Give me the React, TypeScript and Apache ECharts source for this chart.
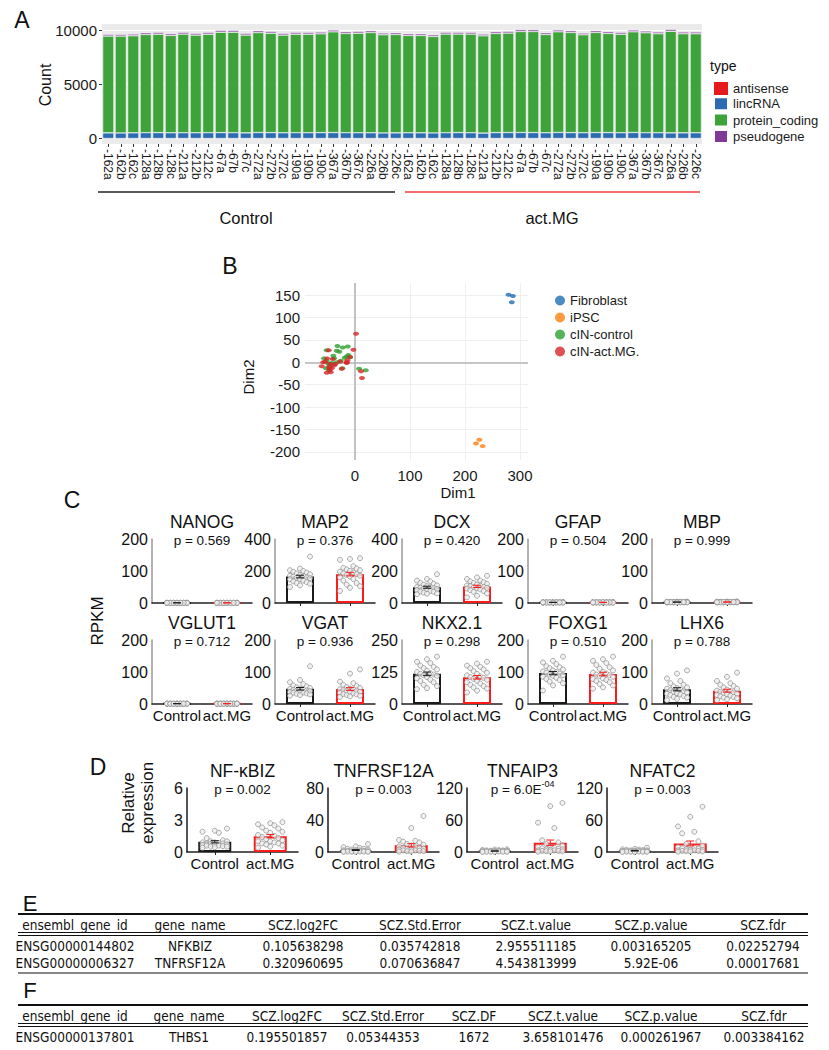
import React, { useEffect, useRef } from "react";
import * as echarts from "echarts";

const SANS = "'Liberation Sans', Arial, Helvetica, sans-serif";
const NARROW = "'Liberation Sans Narrow', 'DejaVu Sans Condensed', 'Liberation Sans', Arial, sans-serif";

// ================= Panel A data =================
const sampleIds = ["-162a", "-162b", "-162c", "-128a", "-128b", "-128c", "-212a", "-212b", "-212c", "-67a", "-67b", "-67c", "-272a", "-272b", "-272c", "-190a", "-190b", "-190c", "-367a", "-367b", "-367c", "-226a", "-226b", "-226c"];
const conditions = ["Control", "act.MG"];
const geneTypes = ["antisense", "lincRNA", "protein_coding", "pseudogene"];
const countTicks = [0, 5000, 10000];
const antisenseCounts = [6, 5, 7, 6, 5, 6, 7, 6, 5, 6, 7, 6, 5, 6, 7, 6, 5, 6, 7, 6, 5, 6, 7, 6, 6, 7, 5, 6, 7, 6, 5, 6, 7, 6, 5, 6, 7, 6, 5, 6, 7, 6, 5, 6, 7, 6, 5, 6];
const lincRNACounts = [520, 515, 525, 540, 545, 530, 535, 530, 540, 545, 540, 520, 550, 545, 530, 540, 535, 545, 550, 540, 535, 530, 515, 520, 530, 525, 520, 540, 545, 535, 500, 545, 550, 555, 550, 530, 555, 545, 535, 550, 545, 535, 555, 540, 535, 520, 525, 530];
const proteinCodingCounts = [8925, 8930, 8945, 9050, 9075, 8975, 9085, 9000, 9080, 9255, 9260, 9010, 9220, 9165, 9000, 9080, 9085, 9105, 9280, 9140, 9175, 9240, 9050, 9070, 8970, 8975, 8890, 9085, 9080, 9090, 8965, 9140, 9165, 9310, 9315, 9060, 9280, 9230, 9025, 9225, 9140, 9085, 9280, 9205, 9120, 9365, 9130, 9125];
const pseudogeneCounts = [150, 150, 155, 160, 160, 155, 160, 155, 160, 165, 165, 155, 165, 160, 155, 160, 160, 160, 165, 160, 160, 165, 155, 160, 155, 155, 150, 160, 160, 160, 155, 160, 160, 165, 165, 160, 165, 165, 155, 165, 160, 160, 165, 160, 160, 165, 160, 160];

// ================= Panel B data =================
const mdsGroups = ["Fibroblast", "iPSC", "cIN-control", "cIN-act.MG."];
const dim1Ticks = [0, 100, 200, 300];
const dim2Ticks = [-200, -150, -100, -50, 0, 50, 100, 150];
const fibroblastPts = [[279, 151], [287, 148], [285, 134]];
const ipscPts = [[220, -181], [226, -173], [232, -187]];
const cinControlPts = [[-51.5, 27], [-32, 36.6], [-22.4, 32.9], [-13.3, 35.1], [-33.3, 25.6], [-28.5, 23.4], [-56.4, 8.8], [-38.2, 8.8], [-51.5, 3.7], [-42.4, -1.5], [-33.3, 0], [-52.7, -13.2], [-45.5, -8.8], [-23, -13.2], [-18.8, 10.2], [-12.1, 16.1], [-9.1, 11], [7.3, -14.6], [19.4, -17.6], [-48.5, -3.7], [-15.2, 13.2], [-26, 3.7], [-39.4, 14.6], [-46.7, -18.3]];
const cinActPts = [[1.8, 63.6], [-3, 27.8], [-47.9, 27], [-50.9, 8.8], [-57.6, 0], [-60.6, -8.8], [-51.5, -23.4], [-44.2, -21.9], [-42.4, -13.2], [-40.6, 7.3], [-35.8, -3.7], [-27.3, 1.5], [-24.2, -14.6], [-15.2, 0], [-13.9, 4.4], [-9.1, 11.7], [10.9, -19.8], [12.7, -35.1], [-47.3, -11], [-54.5, 1.5], [-45.5, -3.7], [-38.2, -7.3], [-46.7, -16.1], [-15.2, -1.5]];

// ================= Panel C data (RPKM) =================
const rpkmGenes = ["NANOG", "MAP2", "DCX", "GFAP", "MBP", "VGLUT1", "VGAT", "NKX2.1", "FOXG1", "LHX6"];
const rpkmPValues = ["p = 0.569", "p = 0.376", "p = 0.420", "p = 0.504", "p = 0.999", "p = 0.712", "p = 0.936", "p = 0.298", "p = 0.510", "p = 0.788"];
const rpkmMax = [200, 400, 400, 200, 200, 200, 200, 250, 200, 200];
const rpkmInterval = [100, 200, 200, 100, 100, 100, 100, 125, 100, 100];
const nanogControl = [0.6, 0.4, 0.9, 0.3, 0.7, 0.5, 1.1, 0.4, 0.6, 0.8, 0.3, 0.5, 0.7, 0.4, 0.6, 0.9, 0.5, 0.3, 0.7, 0.6, 0.4, 0.8, 0.5, 0.6];
const nanogAct = [0.5, 0.7, 0.4, 0.8, 0.6, 0.3, 0.9, 0.5, 0.7, 0.4, 0.6, 1.0, 0.5, 0.3, 0.8, 0.6, 0.4, 0.7, 0.5, 0.9, 0.3, 0.6, 0.4, 0.7];
const map2Control = [290, 215, 205, 200, 195, 190, 185, 180, 175, 170, 168, 165, 160, 158, 155, 150, 148, 140, 135, 130, 125, 120, 110, 100];
const map2Act = [280, 275, 270, 230, 220, 215, 210, 205, 200, 195, 190, 185, 180, 175, 170, 165, 160, 150, 140, 125, 115, 105, 95, 75];
const dcxControl = [180, 150, 140, 135, 125, 120, 115, 110, 105, 100, 98, 95, 92, 90, 88, 85, 80, 75, 72, 70, 65, 60, 58, 55];
const dcxAct = [170, 160, 150, 140, 135, 130, 125, 120, 115, 110, 108, 105, 100, 98, 95, 92, 90, 85, 80, 75, 70, 60, 45, 35];
const gfapControl = [1.8, 2.4, 1.2, 3.0, 1.5, 2.1, 0.9, 2.6, 1.7, 2.2, 1.3, 2.8, 1.9, 1.1, 2.5, 1.6, 2.0, 1.4, 2.7, 1.8, 1.0, 2.3, 1.5, 2.0];
const gfapAct = [2.0, 1.4, 2.6, 1.1, 2.9, 1.7, 2.2, 1.3, 2.5, 1.8, 1.0, 2.4, 1.6, 2.8, 1.2, 2.1, 1.9, 2.7, 1.5, 2.3, 1.1, 1.8, 2.6, 1.4];
const mbpControl = [2.5, 3.5, 1.8, 4.2, 2.9, 1.5, 3.8, 2.2, 3.1, 1.9, 4.5, 2.6, 3.3, 2.0, 3.9, 2.4, 1.7, 3.6, 2.8, 2.1, 4.0, 3.0, 1.6, 2.7];
const mbpAct = [3.2, 2.0, 4.6, 2.7, 1.8, 3.9, 2.4, 5.2, 3.0, 1.6, 3.5, 2.2, 4.1, 2.9, 1.9, 3.7, 2.5, 4.4, 2.1, 3.3, 1.7, 2.8, 3.6, 2.3];
const vglut1Control = [1.2, 0.8, 1.5, 0.9, 1.1, 0.7, 1.3, 1.0, 0.6, 1.4, 0.9, 1.2, 0.8, 1.0, 1.6, 0.7, 1.1, 0.9, 1.3, 0.8, 1.0, 1.2, 0.6, 0.9];
const vglut1Act = [1.0, 1.3, 0.7, 1.1, 0.9, 1.4, 0.8, 1.2, 1.0, 0.6, 1.5, 0.9, 1.1, 0.8, 1.3, 1.0, 0.7, 1.2, 0.9, 1.4, 0.8, 1.1, 1.0, 0.7];
const vgatControl = [118, 75, 68, 62, 58, 55, 52, 50, 48, 47, 45, 44, 42, 41, 40, 38, 37, 36, 35, 33, 32, 30, 28, 26];
const vgatAct = [108, 95, 70, 65, 60, 56, 53, 50, 48, 46, 45, 43, 42, 40, 38, 36, 35, 33, 31, 30, 28, 26, 24, 22];
const nkx21Control = [185, 175, 165, 160, 150, 145, 140, 135, 130, 125, 120, 118, 115, 112, 110, 105, 100, 95, 90, 85, 75, 70, 62, 58];
const nkx21Act = [165, 158, 150, 145, 140, 135, 128, 122, 118, 112, 108, 105, 102, 98, 95, 90, 85, 80, 75, 70, 65, 60, 52, 45];
const foxg1Control = [148, 135, 130, 125, 118, 115, 112, 108, 105, 102, 100, 98, 95, 92, 90, 88, 85, 82, 78, 75, 70, 65, 58, 42];
const foxg1Act = [148, 140, 135, 128, 122, 115, 110, 105, 100, 98, 95, 92, 90, 88, 85, 80, 78, 75, 72, 68, 62, 58, 52, 48];
const lhx6Control = [105, 95, 80, 72, 65, 60, 55, 52, 50, 48, 45, 43, 40, 38, 36, 34, 32, 30, 28, 25, 22, 20, 16, 12];
const lhx6Act = [98, 85, 72, 65, 60, 56, 52, 48, 45, 42, 40, 38, 36, 34, 32, 30, 28, 26, 24, 22, 20, 18, 15, 12];
const rpkmControl = [nanogControl, map2Control, dcxControl, gfapControl, mbpControl, vglut1Control, vgatControl, nkx21Control, foxg1Control, lhx6Control];
const rpkmAct = [nanogAct, map2Act, dcxAct, gfapAct, mbpAct, vglut1Act, vgatAct, nkx21Act, foxg1Act, lhx6Act];

// ================= Panel D data (relative expression) =================
const qpcrGenes = ["NF-κBIZ", "TNFRSF12A", "TNFAIP3", "NFATC2"];
const qpcrPValues = ["p = 0.002", "p = 0.003", "", "p = 0.003"];
const qpcrMax = [6, 80, 120, 120];
const qpcrInterval = [3, 40, 60, 60];
const nfkbizControl = [2.2, 2.0, 1.9, 1.8, 1.3, 1.1, 1.0, 1.0, 0.9, 0.9, 0.85, 0.8, 0.8, 0.75, 0.7, 0.7, 0.65, 0.6, 0.6, 0.55, 0.5, 0.5, 0.45, 0.4];
const nfkbizAct = [2.8, 2.7, 2.6, 2.5, 2.3, 2.2, 2.0, 1.9, 1.8, 1.6, 1.5, 1.4, 1.3, 1.2, 1.1, 1.0, 1.0, 0.9, 0.8, 0.8, 0.7, 0.6, 0.5, 0.4];
const tnfrsf12aControl = [10, 7, 6, 5, 4, 4, 3, 3, 2.5, 2, 2, 1.5, 1.5, 1, 1, 1, 0.8, 0.6, 0.5, 0.5, 0.4, 0.3, 0.2, 0.2];
const tnfrsf12aAct = [45, 30, 15, 14, 13, 12, 10, 9, 8, 7, 6, 5, 5, 4, 4, 3, 3, 2, 2, 1.5, 1, 1, 0.5, 0.5];
const tnfaip3Control = [5, 4.5, 4, 3.5, 3, 3, 2.5, 2.5, 2, 2, 1.8, 1.5, 1.5, 1.2, 1, 1, 0.8, 0.8, 0.6, 0.5, 0.5, 0.4, 0.3, 0.2];
const tnfaip3Act = [92, 86, 55, 45, 22, 18, 15, 12, 10, 9, 8, 7, 6, 5, 5, 4, 3, 3, 2, 2, 1.5, 1, 1, 0.5];
const nfatc2Control = [8, 6, 5, 4.5, 4, 3.5, 3, 3, 2.5, 2, 2, 1.8, 1.5, 1.5, 1.2, 1, 1, 0.8, 0.6, 0.5, 0.5, 0.4, 0.3, 0.2];
const nfatc2Act = [85, 66, 48, 38, 35, 20, 15, 12, 10, 9, 8, 7, 6, 5, 4, 4, 3, 3, 2, 2, 1.5, 1, 1, 0.5];
const qpcrControl = [nfkbizControl, tnfrsf12aControl, tnfaip3Control, nfatc2Control];
const qpcrAct = [nfkbizAct, tnfrsf12aAct, tnfaip3Act, nfatc2Act];

// ================= Tables E and F =================
const tableEHeader = ["ensembl_gene_id", "gene_name", "SCZ.log2FC", "SCZ.Std.Error", "SCZ.t.value", "SCZ.p.value", "SCZ.fdr"];
const tableERows = [
  ["ENSG00000144802", "NFKBIZ", "0.105638298", "0.035742818", "2.955511185", "0.003165205", "0.02252794"],
  ["ENSG00000006327", "TNFRSF12A", "0.320960695", "0.070636847", "4.543813999", "5.92E-06", "0.00017681"],
];
const tableFHeader = ["ensembl_gene_id", "gene_name", "SCZ.log2FC", "SCZ.Std.Error", "SCZ.DF", "SCZ.t.value", "SCZ.p.value", "SCZ.fdr"];
const tableFRows = [["ENSG00000137801", "THBS1", "0.195501857", "0.05344353", "1672", "3.658101476", "0.000261967", "0.003384162"]];

// ================= helpers =================
const mean = (a: number[]) => a.reduce((s, v) => s + v, 0) / a.length;
const sem = (a: number[]) => {
  const m = mean(a);
  const v = a.reduce((s, x) => s + (x - m) * (x - m), 0) / (a.length - 1);
  return Math.sqrt(v) / Math.sqrt(a.length);
};
// deterministic horizontal spread of dots (layout only)
function jitterPoints(values: number[], center: number, spread: number) {
  const order = values.map((v, i) => [v, i]).sort((a, b) => a[0] - b[0]);
  const out: number[][] = new Array(values.length);
  order.forEach(([v, i], r) => {
    const k = ((r * 3) % 7) - 3;
    out[i] = [center + (k / 3) * spread, v];
  });
  return out;
}
const plainNum = (v: number) => String(v);

function txt(text: string, x: number, y: number, size: number, o: any = {}) {
  const align = o.align || "center";
  return {
    type: "text",
    x,
    y,
    rotation: o.rotation || 0,
    silent: true,
    z: 50,
    style: {
      text,
      fontSize: size,
      fontFamily: o.family || SANS,
      fill: o.color || "#111",
      align,
      textAlign: align,
      verticalAlign: "middle",
      textVerticalAlign: "middle",
    },
  };
}
function hline(x1: number, x2: number, y: number, w: number, color = "#111") {
  return { type: "line", silent: true, z: 50, shape: { x1, y1: y, x2, y2: y }, style: { stroke: color, lineWidth: w } };
}

function buildOption() {
  const grid: any[] = [];
  const xAxis: any[] = [];
  const yAxis: any[] = [];
  const series: any[] = [];
  const graphic: any[] = [];

  // ---------- Panel A ----------
  grid.push({ left: 102, top: 24, width: 600, height: 120, show: true, backgroundColor: "#EBEBEB", borderWidth: 0 });
  const labelsA = [...sampleIds, ...sampleIds];
  xAxis.push({
    type: "category",
    gridIndex: 0,
    data: labelsA,
    axisLine: { show: false, onZero: false },
    axisTick: { show: true, alignWithLabel: true, length: 3, lineStyle: { color: "#333" } },
    axisLabel: { interval: 0, rotate: -90, fontSize: 12, color: "#1a1a1a", margin: 5, fontFamily: SANS },
    splitLine: { show: false },
  });
  yAxis.push({
    type: "value",
    gridIndex: 0,
    min: -500,
    max: 10560,
    axisLine: { show: false, onZero: false },
    axisTick: { show: true, length: 3, customValues: countTicks, lineStyle: { color: "#333" } },
    axisLabel: { customValues: countTicks, formatter: plainNum, fontSize: 15, color: "#1a1a1a", margin: 5, fontFamily: SANS },
    splitLine: { show: true, lineStyle: { color: "#ffffff", width: 1 } },
  });
  const typeColors = ["#E41A1C", "#2C6BB0", "#3EA33A", "#7E3A96"];
  const typeData = [antisenseCounts, lincRNACounts, proteinCodingCounts, pseudogeneCounts];
  geneTypes.forEach((t, i) => {
    series.push({
      type: "bar",
      name: t,
      stack: "types",
      xAxisIndex: 0,
      yAxisIndex: 0,
      barCategoryGap: "10%",
      data: typeData[i],
      itemStyle: { color: typeColors[i], borderColor: "#ffffff", borderWidth: i === 0 ? 0 : 0.5 },
      silent: true,
    });
  });
  graphic.push(txt("A", 22, 20, 23));
  graphic.push(txt("Count", 45, 85, 16, { rotation: Math.PI / 2 }));
  graphic.push(txt("type", 710, 66, 14, { align: "left" }));
  graphic.push(hline(98, 395, 192, 2, "#5A5A5A"));
  graphic.push(hline(405, 700, 192, 2, "#F26D6D"));
  graphic.push(txt(conditions[0], 246, 218, 16.5));
  graphic.push(txt(conditions[1], 552, 218, 16.5));

  // ---------- Panel B ----------
  grid.push({ left: 305, top: 283, width: 223, height: 177 });
  xAxis.push({
    type: "value",
    gridIndex: 1,
    min: -91,
    max: 314.5,
    axisLine: { show: false, onZero: false },
    axisTick: { show: false, customValues: dim1Ticks },
    axisLabel: { customValues: dim1Ticks, fontSize: 15, color: "#1a1a1a", margin: 8, fontFamily: SANS },
    splitLine: { show: true, lineStyle: { color: "#EFEFEF", width: 1 } },
  });
  yAxis.push({
    type: "value",
    gridIndex: 1,
    min: -218,
    max: 177,
    axisLine: { show: false, onZero: false },
    axisTick: { show: false, customValues: dim2Ticks },
    axisLabel: { customValues: dim2Ticks, fontSize: 15, color: "#1a1a1a", margin: 5, fontFamily: SANS },
    splitLine: { show: true, lineStyle: { color: "#EFEFEF", width: 1 } },
  });
  const mdsColors = ["#1F6DB5", "#FF7F0E", "#2CA02C", "#D62728"];
  const mdsData = [fibroblastPts, ipscPts, cinControlPts, cinActPts];
  mdsGroups.forEach((g, i) => {
    const s: any = {
      type: "scatter",
      name: g,
      xAxisIndex: 1,
      yAxisIndex: 1,
      data: mdsData[i],
      symbol: "circle",
      symbolSize: [6, 4],
      itemStyle: { color: mdsColors[i] },
      z: 5,
      silent: true,
    };
    if (i === 0) {
      s.markLine = {
        silent: true,
        symbol: "none",
        z: 1,
        label: { show: false },
        lineStyle: { color: "#B5B5B5", width: 1.6, type: "solid" },
        data: [{ xAxis: 0 }, { yAxis: 0 }],
      };
    }
    series.push(s);
  });
  graphic.push(txt("B", 230, 266, 23));
  graphic.push(txt("Dim2", 248, 377, 15, { rotation: Math.PI / 2 }));
  graphic.push(txt("Dim1", 458, 492, 15));

  // ---------- dot-bar subplots (C, D) ----------
  function addDotPlot(cfg: any) {
    const gi = grid.length;
    grid.push({ left: cfg.left, top: cfg.top, width: cfg.width, height: cfg.height });
    const xc = xAxis.length;
    xAxis.push({
      type: "category",
      gridIndex: gi,
      data: conditions,
      axisLine: { show: true, onZero: false, lineStyle: { color: "#222", width: 1.5 } },
      axisTick: { show: true, alignWithLabel: true, length: 3, lineStyle: { color: "#222", width: 1 } },
      axisLabel: { show: cfg.showLabels, interval: 0, fontSize: 15, color: "#111", margin: 4, fontFamily: SANS },
      splitLine: { show: false },
    });
    const xv = xAxis.length;
    xAxis.push({ type: "value", gridIndex: gi, min: -0.5, max: 1.5, show: false, axisLine: { onZero: false }, splitLine: { show: false } });
    const yi = yAxis.length;
    yAxis.push({
      type: "value",
      gridIndex: gi,
      min: 0,
      max: cfg.max,
      interval: cfg.interval,
      axisLine: { show: true, onZero: false, lineStyle: { color: cfg.yColor, width: 1.5 } },
      axisTick: { show: false },
      axisLabel: { fontSize: 16, color: "#111", margin: 4, fontFamily: SANS },
      splitLine: { show: false },
    });
    const mC = mean(cfg.control);
    const mA = mean(cfg.act);
    series.push({
      type: "bar",
      name: "bar-" + gi,
      xAxisIndex: xc,
      yAxisIndex: yi,
      barWidth: cfg.barWidth,
      silent: true,
      z: 2,
      itemStyle: { color: "rgba(255,255,255,0)", borderWidth: 2 },
      data: [
        { value: mC, itemStyle: { borderColor: "#1a1a1a" } },
        { value: mA, itemStyle: { borderColor: "#FF1A1A" } },
      ],
    });
    series.push({
      type: "scatter",
      name: "dots-" + gi,
      xAxisIndex: xv,
      yAxisIndex: yi,
      silent: true,
      z: 3,
      symbol: "circle",
      symbolSize: 5,
      itemStyle: { color: "#EEEEEE", borderColor: "#8E8E8E", borderWidth: 0.9 },
      data: [...jitterPoints(cfg.control, 0, cfg.spread), ...jitterPoints(cfg.act, 1, cfg.spread)],
    });
    series.push({
      type: "custom",
      name: "err-" + gi,
      xAxisIndex: xv,
      yAxisIndex: yi,
      silent: true,
      z: 4,
      data: [
        [0, mC, sem(cfg.control)],
        [1, mA, sem(cfg.act)],
      ],
      renderItem: (params: any, api: any) => {
        const x = api.value(0);
        const m = api.value(1);
        const s = api.value(2);
        const top = api.coord([x, m + s]);
        const bot = api.coord([x, Math.max(0, m - s)]);
        const color = x === 0 ? "#1a1a1a" : "#FF1A1A";
        const hw = 4;
        const st = { stroke: color, lineWidth: 1 };
        return {
          type: "group",
          children: [
            { type: "line", shape: { x1: top[0], y1: top[1], x2: bot[0], y2: bot[1] }, style: st },
            { type: "line", shape: { x1: top[0] - hw, y1: top[1], x2: top[0] + hw, y2: top[1] }, style: st },
            { type: "line", shape: { x1: bot[0] - hw, y1: bot[1], x2: bot[0] + hw, y2: bot[1] }, style: st },
          ],
        };
      },
    });
    const cx = cfg.left + cfg.width / 2;
    graphic.push(txt(cfg.title, cx, cfg.top - 17, 17.5));
    if (cfg.p) graphic.push(txt(cfg.p, cx, cfg.top + 1, 13.5));
  }

  // Panel C
  const cCols = [152, 275, 402, 528, 652];
  const cRows = [539, 640];
  rpkmGenes.forEach((g, i) => {
    const row = Math.floor(i / 5);
    const col = i % 5;
    addDotPlot({
      left: cCols[col],
      top: cRows[row],
      width: 100,
      height: 64,
      max: rpkmMax[i],
      interval: rpkmInterval[i],
      control: rpkmControl[i],
      act: rpkmAct[i],
      showLabels: row === 1,
      yColor: "#9A9A9A",
      barWidth: 28,
      spread: 0.2,
      title: g,
      p: rpkmPValues[i],
    });
  });
  graphic.push(txt("C", 72, 500, 23));
  graphic.push(txt("RPKM", 97, 621, 17, { rotation: Math.PI / 2 }));

  // Panel D
  const dCols = [187, 328, 467, 607];
  qpcrGenes.forEach((g, i) => {
    addDotPlot({
      left: dCols[i],
      top: 788,
      width: 111,
      height: 64,
      max: qpcrMax[i],
      interval: qpcrInterval[i],
      control: qpcrControl[i],
      act: qpcrAct[i],
      showLabels: true,
      yColor: "#1a1a1a",
      barWidth: 33,
      spread: 0.22,
      title: g,
      p: qpcrPValues[i],
    });
  });
  // TNFAIP3 p-value with superscript exponent
  graphic.push(txt("p = 6.0E", 541.5, 789, 13.5, { align: "right" }));
  graphic.push(txt("-04", 541.5, 784, 9, { align: "left" }));
  graphic.push(txt("D", 98, 767, 23));
  graphic.push(txt("Relative", 128, 803, 17, { rotation: Math.PI / 2 }));
  graphic.push(txt("expression", 147, 803, 17, { rotation: Math.PI / 2 }));

  // ---------- Tables E, F ----------
  const eCols = [75, 190, 303, 420, 536, 651, 763];
  graphic.push(txt("E", 30, 903, 22));
  graphic.push(hline(18, 808, 914, 1.8));
  tableEHeader.forEach((h, i) => graphic.push(txt(h, eCols[i], 925, 13.5, { family: NARROW })));
  graphic.push(hline(18, 808, 932.5, 1));
  graphic.push(hline(18, 808, 935.5, 1));
  tableERows.forEach((r, ri) => r.forEach((c, i) => graphic.push(txt(c, eCols[i], 946 + ri * 17, 13.5, { family: NARROW }))));
  graphic.push(hline(18, 808, 973, 1));

  const fCols = [75, 189, 287, 383, 474, 563, 661, 764];
  graphic.push(txt("F", 30, 990, 22));
  graphic.push(hline(18, 808, 1005, 1.8));
  tableFHeader.forEach((h, i) => graphic.push(txt(h, fCols[i], 1016, 13.5, { family: NARROW })));
  graphic.push(hline(18, 808, 1023.5, 1));
  graphic.push(hline(18, 808, 1026.5, 1));
  tableFRows.forEach((r, ri) => r.forEach((c, i) => graphic.push(txt(c, fCols[i], 1037 + ri * 17, 13.5, { family: NARROW }))));

  return {
    animation: false,
    backgroundColor: "#ffffff",
    textStyle: { fontFamily: SANS },
    grid,
    xAxis,
    yAxis,
    series,
    graphic,
    legend: [
      {
        data: geneTypes,
        orient: "vertical",
        left: 708,
        top: 77,
        itemWidth: 14,
        itemHeight: 13,
        itemGap: 1.3,
        icon: "rect",
        selectedMode: false,
        textStyle: { fontSize: 13, lineHeight: 13, color: "#1a1a1a", fontFamily: SANS },
      },
      {
        data: mdsGroups,
        orient: "vertical",
        left: 550,
        top: 289,
        itemWidth: 10,
        itemHeight: 10,
        itemGap: 4,
        icon: "circle",
        selectedMode: false,
        textStyle: { fontSize: 13, color: "#1a1a1a", fontFamily: SANS },
      },
    ],
  };
}

export default function App() {
  const ref = useRef<HTMLDivElement>(null);
  useEffect(() => {
    if (!ref.current) return;
    const chart = echarts.init(ref.current, undefined, { renderer: "svg" });
    chart.setOption(buildOption() as any);
    return () => chart.dispose();
  }, []);
  return (
    <div
      ref={ref}
      style={{ position: "absolute", left: 0, top: 0, width: 829, height: 1050, background: "#fff" }}
    />
  );
}
